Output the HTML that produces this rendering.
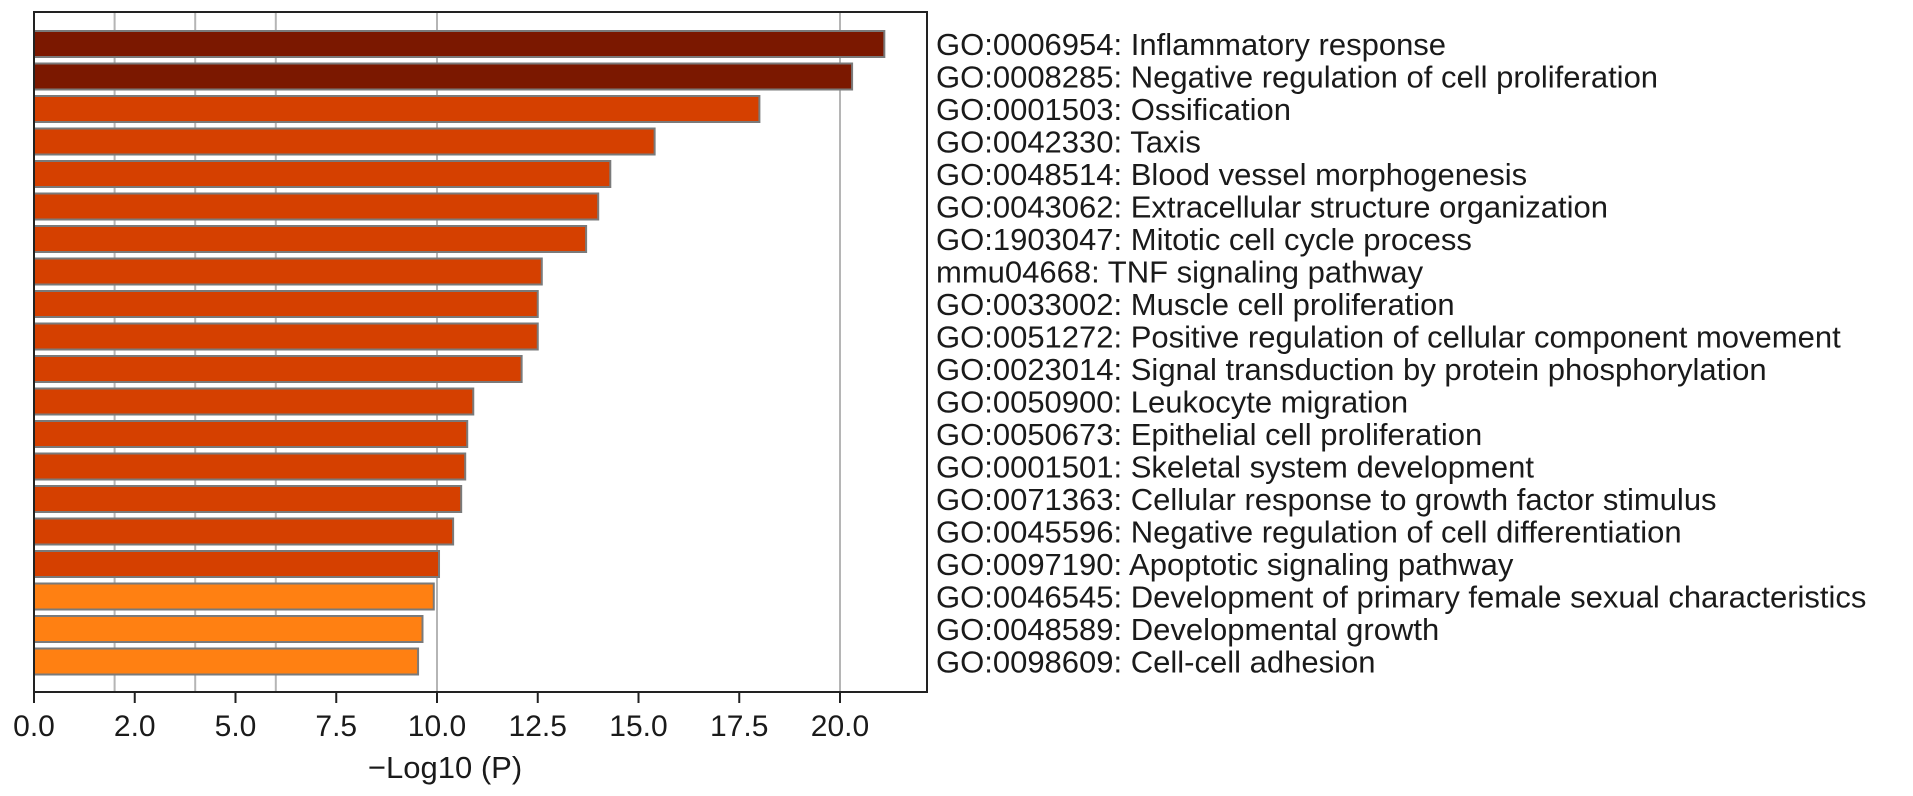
<!DOCTYPE html>
<html><head><meta charset="utf-8"><style>
html,body{margin:0;padding:0;background:#fff;}
svg{display:block;font-family:"Liberation Sans",Arial,sans-serif;}
</style></head><body>
<svg id="chart" width="1913" height="796" viewBox="0 0 1913 796" xmlns="http://www.w3.org/2000/svg"></svg>
<script>
const categories = [
"GO:0006954: Inflammatory response",
"GO:0008285: Negative regulation of cell proliferation",
"GO:0001503: Ossification",
"GO:0042330: Taxis",
"GO:0048514: Blood vessel morphogenesis",
"GO:0043062: Extracellular structure organization",
"GO:1903047: Mitotic cell cycle process",
"mmu04668: TNF signaling pathway",
"GO:0033002: Muscle cell proliferation",
"GO:0051272: Positive regulation of cellular component movement",
"GO:0023014: Signal transduction by protein phosphorylation",
"GO:0050900: Leukocyte migration",
"GO:0050673: Epithelial cell proliferation",
"GO:0001501: Skeletal system development",
"GO:0071363: Cellular response to growth factor stimulus",
"GO:0045596: Negative regulation of cell differentiation",
"GO:0097190: Apoptotic signaling pathway",
"GO:0046545: Development of primary female sexual characteristics",
"GO:0048589: Developmental growth",
"GO:0098609: Cell-cell adhesion"];
const values = [21.1,20.3,18.0,15.4,14.3,14.0,13.7,12.6,12.5,12.5,12.1,10.9,10.75,10.7,10.6,10.4,10.05,9.92,9.64,9.53];
const colorGroups = [0,0,1,1,1,1,1,1,1,1,1,1,1,1,1,1,1,2,2,2];
const groupColors = ["#7b1800","#d54000","#ff8012"];
const tickValues = [0,2.5,5,7.5,10,12.5,15,17.5,20];
const tickLabels = ["0.0","2.0","5.0","7.5","10.0","12.5","15.0","17.5","20.0"];
const gridValues = [2,4,6,10,20];

const NS="http://www.w3.org/2000/svg";
const svg=document.getElementById('chart');
const L=34,R=927,T=12,B=692,xmax=(R-L)/40.3;
const x=v=>L+v*(R-L)/xmax;
const pitch=32.5, barTop0=31, barH=26;
const y=i=>barTop0+i*pitch;
function el(t,a){const e=document.createElementNS(NS,t);for(const k in a)e.setAttribute(k,a[k]);svg.appendChild(e);return e;}

gridValues.forEach(g=>{
  const ln=el('line',{x1:x(g),x2:x(g),y1:T,y2:B,stroke:'#b5b5b5','stroke-width':2});
  
  
});
values.forEach((v,i)=>{
  const r=el('rect',{x:L,y:y(i),width:x(v)-L,height:barH,fill:groupColors[colorGroups[i]],stroke:'#7a7a7a','stroke-width':2});
  
  
  const t=el('text',{x:936,y:y(i)+barH/2+11,'font-size':31,fill:'#1a1a1a'});
  t.textContent=categories[i];
  
  
});
const frame=el('rect',{x:L,y:T,width:R-L,height:B-T,fill:'none',stroke:'#222','stroke-width':2});


tickValues.forEach((v,i)=>{
  const tk=el('line',{x1:x(v),x2:x(v),y1:B,y2:B+11,stroke:'#222','stroke-width':2});
  
  
  const t=el('text',{x:x(v),y:B+44,'font-size':30,'text-anchor':'middle',fill:'#1a1a1a'});
  t.textContent=tickLabels[i];
  
  
});
const ttl=el('text',{x:x(10.2),y:778,'font-size':31,'text-anchor':'middle',fill:'#1a1a1a'});
ttl.textContent="\u2212Log10 (P)";


</script>
</body></html>
